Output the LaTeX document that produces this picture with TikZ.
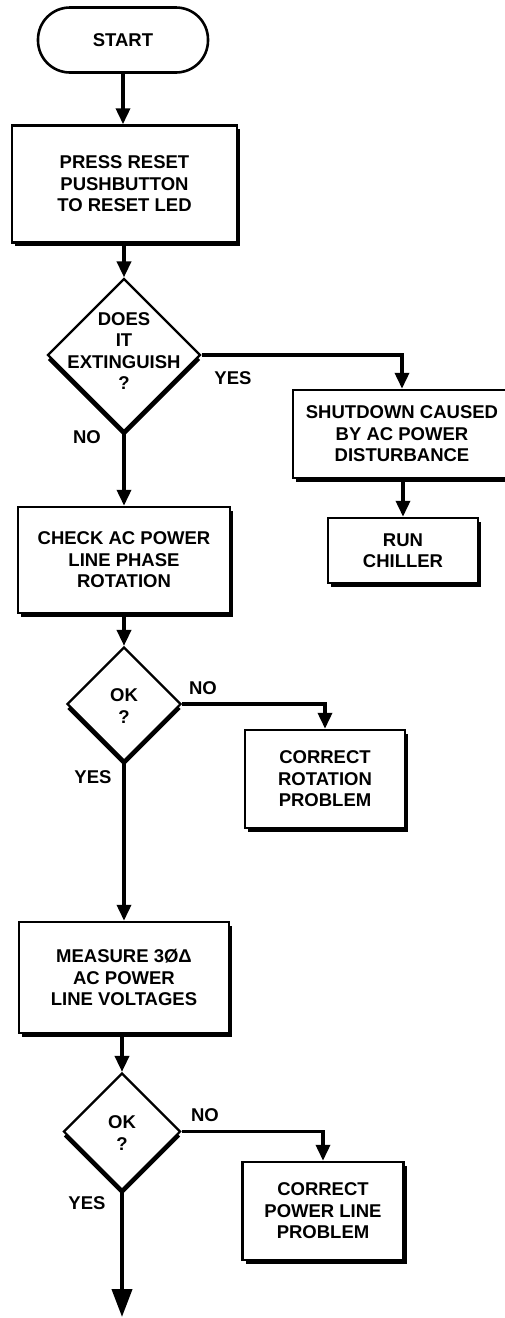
\documentclass[tikz,border=0pt]{standalone}
\usepackage{fontspec}
\setmainfont{Liberation Sans}
\usetikzlibrary{arrows.meta,shapes.geometric,shadows}
\begin{document}
\begin{tikzpicture}[x=1pt,y=-1pt,
  txt/.style={font=\fontsize{18.5}{21.5}\selectfont\bfseries, align=center},
  procbox/.style={draw, line width=2.5pt, fill=white, inner sep=0pt,
    drop shadow={shadow xshift=3pt, shadow yshift=-3.5pt, opacity=1, fill=black}},
  term/.style={draw, line width=2.6pt, fill=white, rounded corners=32pt, inner sep=0pt},
  decis/.style={diamond, aspect=1, draw, line width=2.2pt, fill=white, inner sep=0pt,
    drop shadow={shadow xshift=0pt, shadow yshift=-5pt, opacity=1, fill=black}},
  lab/.style={font=\fontsize{18.5}{21.5}\selectfont\bfseries},
  flow/.style={line width=3.6pt, -{Triangle[length=16pt,width=14pt]}},
  bigflow/.style={line width=4pt, -{Triangle[length=28pt,width=20pt]}}
]
\useasboundingbox (0,0) rectangle (504,1318);

% nodes
\node[term, minimum width=170pt, minimum height=65pt, txt] (start) at (123,40) {START};
\node[procbox, minimum width=225pt, minimum height=117pt, txt] (b1) at (124.5,184) {PRESS RESET\\PUSHBUTTON\\TO RESET LED};

\node[decis, minimum width=153pt, minimum height=153pt] (d1) at (124,355) {};
\node[txt] (d1t) at (124,351) {DOES\\IT\\EXTINGUISH\\?};
\node[lab] (yes1) at (233,378) {YES};
\node[lab] (no1) at (87,437) {NO};

\node[procbox, minimum width=218pt, minimum height=88pt, txt] (b2) at (402,434) {SHUTDOWN CAUSED\\BY AC POWER\\DISTURBANCE};
\node[procbox, minimum width=150pt, minimum height=65pt, txt] (b3) at (403,550.5) {RUN\\CHILLER};

\node[procbox, minimum width=212pt, minimum height=106pt, txt] (b4) at (124,560) {CHECK AC POWER\\LINE PHASE\\ROTATION};

\node[decis, minimum width=114pt, minimum height=114pt] (d2) at (124,704) {};
\node[txt] (d2t) at (124,706) {OK\\?};
\node[lab] (no2) at (203,688) {NO};
\node[lab] (yes2) at (93,777) {YES};
\node[procbox, minimum width=160pt, minimum height=98pt, txt] (b5) at (325,779) {CORRECT\\ROTATION\\PROBLEM};

\node[procbox, minimum width=210pt, minimum height=111pt, txt] (b6) at (124,977.5) {MEASURE 3ØΔ\\AC POWER\\LINE VOLTAGES};

\node[decis, minimum width=117pt, minimum height=117pt] (d3) at (122,1131.5) {};
\node[txt] (d3t) at (122,1133) {OK\\?};
\node[lab] (no3) at (205,1115) {NO};
\node[lab] (yes3) at (87,1203) {YES};
\node[procbox, minimum width=161pt, minimum height=98pt, txt] (b7) at (323,1211) {CORRECT\\POWER LINE\\PROBLEM};

\coordinate (endpt) at (122,1317);

% connectors
\draw[flow] (start.south) -- (start.south |- b1.north);
\draw[flow] (b1.south -| d1.north) -- (d1.north);
\draw[flow] (d1.east) -| (b2.north);
\draw[flow] (b2.south -| b3.north) -- (b3.north);
\draw[flow] (d1.south) -- (d1.south |- b4.north);
\draw[flow] (b4.south -| d2.north) -- (d2.north);
\draw[flow] (d2.east) -| (b5.north);
\draw[flow] (d2.south) -- (d2.south |- b6.north);
\draw[flow] (b6.south -| d3.north) -- (d3.north);
\draw[flow] (d3.east) -| (b7.north);
\draw[bigflow] (d3.south) -- (endpt);
\end{tikzpicture}
\end{document}
